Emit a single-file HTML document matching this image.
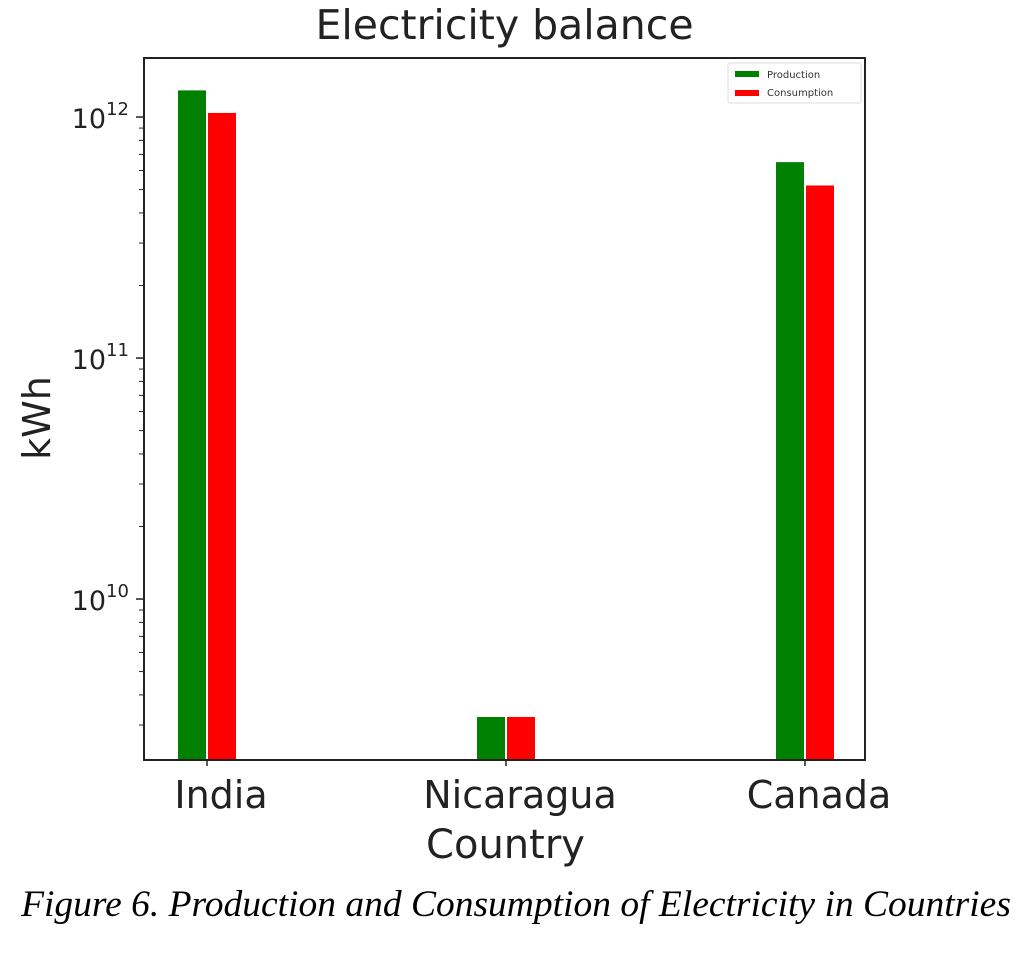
<!DOCTYPE html>
<html><head><meta charset="utf-8">
<style>
html,body{margin:0;padding:0;background:#fff;}
body{width:1032px;height:954px;overflow:hidden;position:relative;}
svg{position:absolute;left:0;top:0;}
.cap{position:absolute;left:0;top:883px;width:1032px;text-align:center;font-family:"Liberation Serif",serif;font-style:italic;font-size:37.5px;color:#000;white-space:nowrap;}
</style></head>
<body>
<svg id="chart" width="1032" height="880"></svg>
<div class="cap">Figure 6. Production and Consumption of Electricity in Countries</div>
<script>
const categories = ["India", "Nicaragua", "Canada"];
const production = [1.29e12, 3.24e9, 6.5e11];
const consumption = [1.04e12, 3.24e9, 5.2e11];
const tickExponents = [10, 11, 12];
const tickLabels = ["10", "10", "10"];

const NS = "http://www.w3.org/2000/svg";
const svg = document.getElementById("chart");
const L = 144, R = 865, T = 58, B = 760;
const logMin = 9.332, logMax = 12.245;
function y(v){ return B - (Math.log10(v) - logMin) / (logMax - logMin) * (B - T); }
const cx0 = 207, step = 299;
function x(i){ return cx0 + i * step; }
const bw = 28;

function el(tag, attrs, parent){
  const e = document.createElementNS(NS, tag);
  for (const k in attrs) e.setAttribute(k, attrs[k]);
  (parent || svg).appendChild(e);
  return e;
}

categories.forEach((c, i) => {
  const g = el("rect", {x: x(i) - bw - 1, y: y(production[i]), width: bw, height: B - y(production[i]), fill: "#008000"});
  
  
  const r = el("rect", {x: x(i) + 1, y: y(consumption[i]), width: bw, height: B - y(consumption[i]), fill: "#ff0000"});
  
  
  const t = el("text", {x: x(i) + 14, y: 808, "text-anchor": "middle", "font-family": "DejaVu Sans, sans-serif", "font-size": "38", fill: "#222"});
  t.textContent = c;
  
  
  el("line", {x1: x(i), x2: x(i), y1: B, y2: B + 6, stroke: "#222", "stroke-width": 1.5});
});

const fr = el("rect", {x: L, y: T, width: R - L, height: B - T, fill: "none", stroke: "#222", "stroke-width": 2});



tickExponents.forEach((e, i) => {
  const yy = y(Math.pow(10, e));
  el("line", {x1: L - 8, x2: L, y1: yy, y2: yy, stroke: "#222", "stroke-width": 1.5});
  const t = el("text", {x: L - 38, y: yy + 11, "text-anchor": "end", "font-family": "DejaVu Sans, sans-serif", "font-size": "27", fill: "#222"});
  t.textContent = tickLabels[i];
  
  
  const s = el("text", {x: L - 38, y: yy - 2, "font-family": "DejaVu Sans, sans-serif", "font-size": "18", fill: "#222"});
  s.textContent = String(e);
  
  
});
for (let e = 9; e <= 12; e++) {
  for (let m = 2; m <= 9; m++) {
    const v = m * Math.pow(10, e);
    const lv = Math.log10(v);
    if (lv < logMin || lv > logMax) continue;
    const yy = y(v);
    el("line", {x1: L - 5, x2: L, y1: yy, y2: yy, stroke: "#222", "stroke-width": 1});
  }
}

const title = el("text", {x: (L + R) / 2, y: 39, "text-anchor": "middle", "font-family": "DejaVu Sans, sans-serif", "font-size": "41", fill: "#222"});
title.textContent = "Electricity balance";


const xt = el("text", {x: (L + R) / 2 + 1, y: 858, "text-anchor": "middle", "font-family": "DejaVu Sans, sans-serif", "font-size": "40", fill: "#222"});
xt.textContent = "Country";


const yt = el("text", {x: 0, y: 0, "text-anchor": "middle", "font-family": "DejaVu Sans, sans-serif", "font-size": "38", fill: "#222", transform: "translate(50,418) rotate(-90)"});
yt.textContent = "kWh";



const lg = el("g", {});


el("rect", {x: 728, y: 63, width: 133, height: 40, fill: "#fff", stroke: "#ddd", "stroke-width": 1, rx: 2}, lg);
el("rect", {x: 735, y: 71, width: 24, height: 6, fill: "#008000"}, lg);
el("rect", {x: 735, y: 90, width: 24, height: 6, fill: "#ff0000"}, lg);
const l1 = el("text", {x: 767, y: 78, "font-family": "DejaVu Sans, sans-serif", "font-size": "10", fill: "#333"}, lg);
l1.textContent = "Production";


const l2 = el("text", {x: 767, y: 96, "font-family": "DejaVu Sans, sans-serif", "font-size": "10", fill: "#333"}, lg);
l2.textContent = "Consumption";


</script>
</body></html>
